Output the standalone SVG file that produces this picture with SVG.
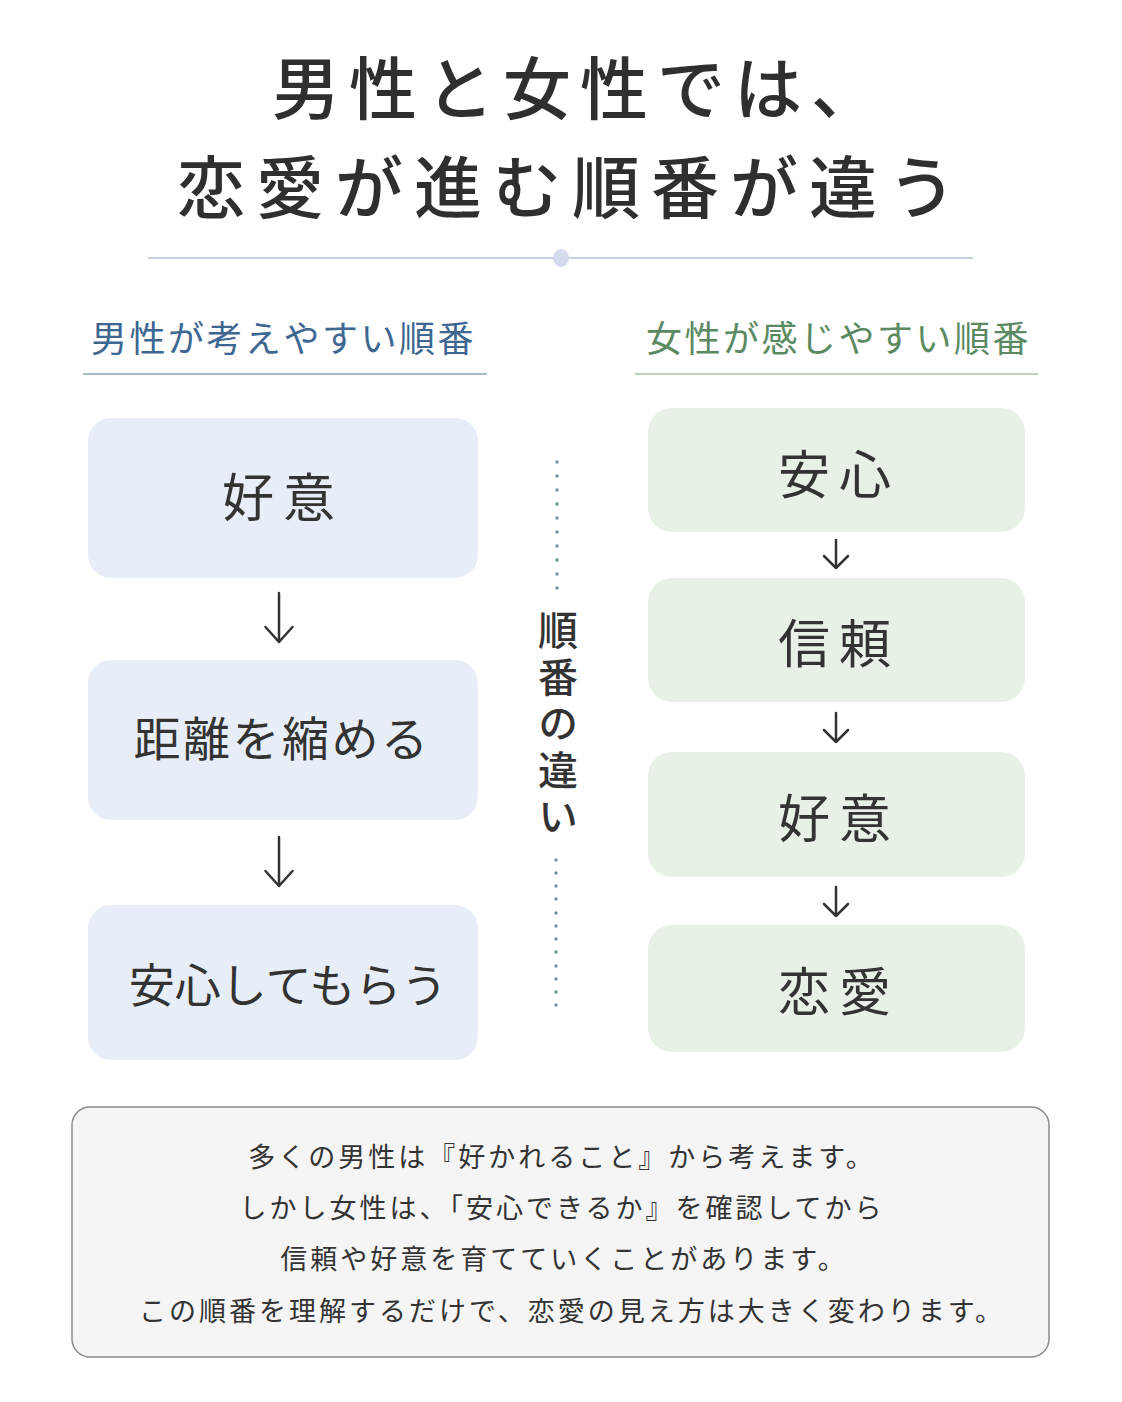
<svg xmlns="http://www.w3.org/2000/svg" width="1122" height="1402" viewBox="0 0 1122 1402">
<style>
text{font-family:"Noto Sans CJK JP","Noto Sans CJK SC",sans-serif;fill:#333;}
.title{font-size:68px;font-weight:500;letter-spacing:9px;fill:#2f2f2f;}
.hl{font-size:36px;letter-spacing:2.5px;fill:#3d6791;}
.hr{font-size:36px;letter-spacing:2.5px;fill:#5b8a62;}
.bl{fill:#e8eef8;}
.bg{fill:#e8f1e6;}
.lab{font-size:47px;text-anchor:middle;fill:#333;}
.big{font-size:52px;letter-spacing:9px;}
.vt{font-size:40px;font-weight:500;fill:#333;writing-mode:vertical-rl;letter-spacing:6.5px;}
.note{font-size:27px;letter-spacing:3px;text-anchor:middle;fill:#333;}
.arr{fill:none;stroke:#333;stroke-width:2.5;stroke-linecap:round;stroke-linejoin:round;}
.dot{fill:#6f939c;}
</style>
<rect width="1122" height="1402" fill="#ffffff"/>

<g id="title">
<text class="title" x="272" y="114">男性と女性では、</text>
<text class="title" x="177" y="213" style="letter-spacing:11px">恋愛が進む順番が違う</text>
<line x1="148" y1="258" x2="973" y2="258" stroke="#c8d0e2" stroke-width="2"/>
<ellipse cx="561" cy="258" rx="8" ry="9" fill="#d3dbec"/>
</g>

<g id="heading-left">
<text class="hl" x="91" y="352">男性が考えやすい順番</text>
<line x1="83" y1="374" x2="487" y2="374" stroke="#8aa5bf" stroke-width="1.5"/>
</g>
<g id="heading-right">
<text class="hr" x="646" y="352">女性が感じやすい順番</text>
<line x1="635" y1="374" x2="1038" y2="374" stroke="#a3bfa6" stroke-width="1.5"/>
</g>

<g id="L1"><rect class="bl" x="88" y="418" width="390" height="160" rx="23"/><text class="lab big" x="283" y="517">好意</text></g>
<g id="L2"><rect class="bl" x="88" y="660" width="390" height="160" rx="23"/><text class="lab" x="282" y="756" style="letter-spacing:2.5px">距離を縮める</text></g>
<g id="L3"><rect class="bl" x="88" y="905" width="390" height="155" rx="23"/><text class="lab" x="288" y="1002" style="font-size:46px">安心してもらう</text></g>

<g id="R1"><rect class="bg" x="648" y="408" width="377" height="124" rx="24"/><text class="lab big" x="839" y="494">安心</text></g>
<g id="R2"><rect class="bg" x="648" y="578" width="377" height="124" rx="24"/><text class="lab big" x="839" y="663">信頼</text></g>
<g id="R3"><rect class="bg" x="648" y="752" width="377" height="125" rx="24"/><text class="lab big" x="839" y="838">好意</text></g>
<g id="R4"><rect class="bg" x="648" y="925" width="377" height="127" rx="24"/><text class="lab big" x="839" y="1011">恋愛</text></g>

<g id="connectors">
<path class="arr" d="M279 593 V642 M265.5 627 L279 642 L292.5 627"/>
<path class="arr" d="M279 837 V886 M265.5 871 L279 886 L292.5 871"/>
<path class="arr" d="M836 540 V568 M824 556 L836 568 L848 556"/>
<path class="arr" d="M836 713 V742 M824 730 L836 742 L848 730"/>
<path class="arr" d="M836 887 V916 M824 904 L836 916 L848 904"/>
</g>

<g id="divider">
<circle class="dot" cx="557" cy="462" r="1.7"/>
<circle class="dot" cx="557" cy="476" r="1.7"/>
<circle class="dot" cx="557" cy="490" r="1.7"/>
<circle class="dot" cx="557" cy="504" r="1.7"/>
<circle class="dot" cx="557" cy="518" r="1.7"/>
<circle class="dot" cx="557" cy="532" r="1.7"/>
<circle class="dot" cx="557" cy="546" r="1.7"/>
<circle class="dot" cx="557" cy="560" r="1.7"/>
<circle class="dot" cx="557" cy="574" r="1.7"/>
<circle class="dot" cx="557" cy="588" r="1.7"/>
<text class="vt" x="558" y="610">順番の違い</text>
<circle class="dot" cx="556" cy="860" r="1.7"/>
<circle class="dot" cx="556" cy="873" r="1.7"/>
<circle class="dot" cx="556" cy="886" r="1.7"/>
<circle class="dot" cx="556" cy="899" r="1.7"/>
<circle class="dot" cx="556" cy="913" r="1.7"/>
<circle class="dot" cx="556" cy="926" r="1.7"/>
<circle class="dot" cx="556" cy="939" r="1.7"/>
<circle class="dot" cx="556" cy="952" r="1.7"/>
<circle class="dot" cx="556" cy="966" r="1.7"/>
<circle class="dot" cx="556" cy="979" r="1.7"/>
<circle class="dot" cx="556" cy="992" r="1.7"/>
<circle class="dot" cx="556" cy="1005" r="1.7"/>
</g>

<g id="note">
<rect x="72" y="1107" width="977" height="250" rx="18" fill="#f5f5f5" stroke="#8c8c8c" stroke-width="1.5"/>
<text class="note" x="562" y="1167">多くの男性は『好かれること』から考えます。</text>
<text class="note" x="562" y="1218">しかし女性は、「安心できるか』を確認してから</text>
<text class="note" x="564" y="1269">信頼や好意を育てていくことがあります。</text>
<text class="note" x="572" y="1321">この順番を理解するだけで、恋愛の見え方は大きく変わります。</text>
</g>
</svg>
